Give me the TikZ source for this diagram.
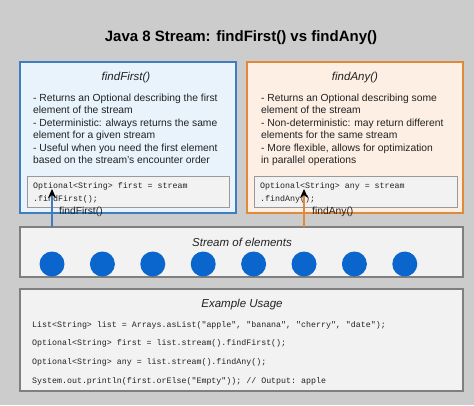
\documentclass[tikz,border=0pt]{standalone}
\usepackage{fontspec}
\setmainfont{Liberation Sans}
\setmonofont{Liberation Mono}
\usetikzlibrary{arrows.meta}
\definecolor{bg}{HTML}{CCCCCC}
\definecolor{ffill}{HTML}{E8F3FC}
\definecolor{fborder}{HTML}{3F7CC0}
\definecolor{afill}{HTML}{FDEFE3}
\definecolor{aborder}{HTML}{E0893A}
\definecolor{lightbox}{HTML}{F2F2F2}
\definecolor{grayborder}{HTML}{7F7F7F}
\definecolor{codeborder}{HTML}{999999}
\definecolor{dot}{HTML}{0A66CC}
\definecolor{txt}{HTML}{222222}
\tikzset{
  codebox/.style={draw=codeborder, fill=lightbox, line width=0.8pt},
  boxtitle/.style={font=\fontsize{11.5}{13}\selectfont\itshape, text=txt},
  bullets/.style={font=\fontsize{10.3}{12.5}\selectfont, text=txt, align=left, anchor=north west, inner sep=0pt},
  codetxt/.style={font=\fontsize{8.3}{13}\ttfamily, text=txt, align=left, anchor=north west, inner sep=0pt},
  elem/.style={circle, fill=dot, minimum size=25pt, inner sep=0pt},
  arr/.style={line width=1.4pt, -{Stealth[black, length=9pt, width=8pt]}},
  lbl/.style={font=\fontsize{10.3}{12}\selectfont, text=txt, inner sep=0pt},
}
\begin{document}
\begin{tikzpicture}[x=1pt,y=-1pt]
\fill[bg] (0,0) rectangle (474,405);
\useasboundingbox (0,0) rectangle (474,405);
\node[font=\fontsize{15}{18}\selectfont\bfseries, text=black] (title) at (241,38) {Java 8 Stream: findFirst() vs findAny()};
% findFirst panel
\draw[fborder, fill=ffill, line width=1.2pt] (20,62) rectangle (236,213);
\node[boxtitle] (fft) at (126,78) {findFirst()};
\node[bullets] (ffb) at (33,93.5) {- Returns an Optional describing the first\\element of the stream\\- Deterministic: always returns the same\\element for a given stream\\- Useful when you need the first element\\based on the stream's encounter order};
\draw[codebox] (27,176) rectangle (229,207);
\node[codetxt] (ffc) at (33,182.5) {Optional<String> first = stream\\.findFirst();};
% findAny panel
\draw[aborder, fill=afill, line width=1.2pt] (247,62) rectangle (463,213);
\node[boxtitle] (fat) at (355,78) {findAny()};
\node[bullets] (fab) at (261,93.5) {- Returns an Optional describing some\\element of the stream\\- Non-deterministic: may return different\\elements for the same stream\\- More flexible, allows for optimization\\in parallel operations};
\draw[codebox] (254,176) rectangle (457,207);
\node[codetxt] (fac) at (260,182.5) {Optional<String> any = stream\\.findAny();};
% stream
\draw[grayborder, fill=lightbox, line width=1.2pt] (20,227) rectangle (463,277);
\node[font=\fontsize{11.5}{13}\selectfont\itshape, text=txt] (st) at (242,242) {Stream of elements};
\foreach \i in {0,...,7} {
  \node[elem] (e\i) at ({52+50.4*\i},264) {};
}
\coordinate (s1) at (52,227);
\coordinate (t1) at (52,189);
\coordinate (s2) at (304,227);
\coordinate (t2) at (304,189);
\draw[arr, fborder] (s1) -- (t1);
\draw[arr, aborder] (s2) -- (t2);
\node[lbl, anchor=west] (l1) at (59,211.5) {findFirst()};
\node[lbl, anchor=west] (l2) at (312,211.5) {findAny()};
% example
\draw[grayborder, fill=lightbox, line width=1.2pt] (20,289) rectangle (463,391);
\node[font=\fontsize{11.5}{13}\selectfont\itshape, text=txt] (ex) at (242,305) {Example Usage};
\node[codetxt, anchor=west] (c1) at (32,325) {List<String> list = Arrays.asList("apple", "banana", "cherry", "date");};
\node[codetxt, anchor=west] (c2) at (32,343.5) {Optional<String> first = list.stream().findFirst();};
\node[codetxt, anchor=west] (c3) at (32,362) {Optional<String> any = list.stream().findAny();};
\node[codetxt, anchor=west] (c4) at (32,381) {System.out.println(first.orElse("Empty")); // Output: apple};
\end{tikzpicture}
\end{document}
